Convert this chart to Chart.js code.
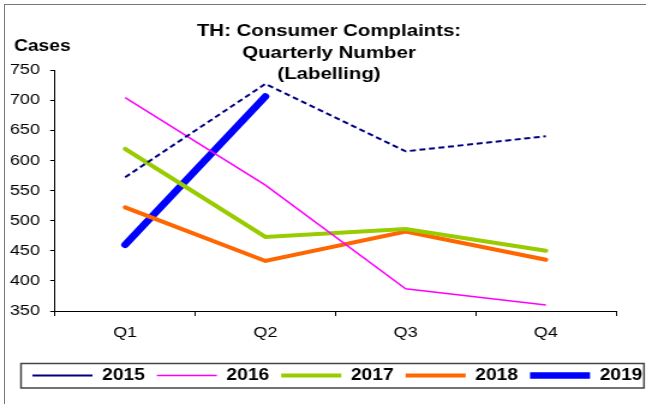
<!DOCTYPE html>
<html>
<head>
<meta charset="utf-8">
<script src="https://cdn.jsdelivr.net/npm/chart.js@4.4.0/dist/chart.umd.min.js"></script>
<style>
html,body{margin:0;padding:0;background:#fff;overflow:hidden;width:646px;height:404px;}
#frame{position:absolute;left:4px;top:4px;width:800px;height:600px;border-left:1px solid #777;border-top:1px solid #777;}
#c{position:absolute;left:0;top:0;}
</style>
</head>
<body>
<div id="frame"></div>
<canvas id="c" width="538" height="404" style="width:646px;height:404px;"></canvas>
<script>
// ---- data ----
const categories = ['Q1', 'Q2', 'Q3', 'Q4'];
const seriesNames = ['2015', '2016', '2017', '2018', '2019'];
const values2015 = [572, 727, 615, 640];
const values2016 = [704, 559, 387, 360];
const values2017 = [619, 473, 486, 450];
const values2018 = [522, 433, 482, 435];
const values2019 = [460, 706, null, null];
const yTickMin = 350;
const yTickMax = 750;
const yTickStep = 50;
const titleLines = ['TH: Consumer Complaints:', 'Quarterly Number', '(Labelling)'];
const yAxisLabel = 'Cases';

// ---- layout (canvas units; canvas is stretched 1.2x horizontally by CSS) ----
const SX = 646 / 538;
const PLOT_LEFT = 55 / SX;
const PLOT_RIGHT = 616 / SX;
const PLOT_TOP = 70;
const PLOT_BOTTOM = 311;
const CW = 538, CH = 404;

const textPlugin = {
  id: 'textPlugin',
  afterLayout(chart) {
    const lg = chart.legend;
    if (lg) {
      const w = lg.right - lg.left, h = lg.bottom - lg.top;
      const center = 281;
      lg.left = center - w / 2; lg.right = center + w / 2;
      lg.top = 357.5; lg.bottom = lg.top + h;
    }
  },
  afterDraw(chart) {
    const ctx = chart.ctx;
    ctx.save();
    ctx.fillStyle = '#000';
    ctx.font = 'bold 17px "Liberation Sans", Arial, sans-serif';
    ctx.textAlign = 'center';
    ctx.textBaseline = 'alphabetic';
    const cx = 329 / SX;
    const bases = [36, 57.5, 79];
    titleLines.forEach((t, i) => ctx.fillText(t, cx, bases[i]));
    ctx.font = 'bold 16px "Liberation Sans", Arial, sans-serif';
    ctx.textAlign = 'left';
    ctx.fillText(yAxisLabel, 14 / SX, 51);
    // legend frame
    ctx.strokeStyle = '#444';
    ctx.lineWidth = 1.5;
    ctx.strokeRect(21 / SX, 363.5, (644 - 21) / SX, 24.5);
    ctx.restore();
  }
};

const ds = (label, data, color, width, dash, cap) => ({
  label, data,
  yAxisID: 'y',
  borderColor: color,
  backgroundColor: color,
  borderWidth: width,
  borderDash: dash,
  borderCapStyle: cap,
  borderJoinStyle: 'miter',
  pointRadius: 0,
  pointHoverRadius: 0,
  tension: 0,
  fill: false,
  spanGaps: false
});

new Chart(document.getElementById('c'), {
  type: 'line',
  data: {
    labels: categories,
    datasets: [
      ds(seriesNames[0], values2015, '#000080', 2, [5, 3], 'butt'),
      ds(seriesNames[1], values2016, '#FF00FF', 1.5, [], 'butt'),
      ds(seriesNames[2], values2017, '#99CC00', 4, [], 'round'),
      ds(seriesNames[3], values2018, '#FF6600', 4, [], 'round'),
      ds(seriesNames[4], values2019, '#0000FF', 6.5, [], 'round')
    ]
  },
  options: {
    responsive: false,
    devicePixelRatio: 1,
    animation: false,
    events: [],
    layout: { padding: { left: 0, right: 0, top: PLOT_TOP, bottom: 0 } },
    plugins: {
      title: { display: false },
      tooltip: { enabled: false },
      legend: {
        display: true,
        position: 'bottom',
        labels: {
          usePointStyle: true,
          pointStyle: 'line',
          pointStyleWidth: 50,
          padding: 10,
          color: '#000',
          font: { family: '"Liberation Sans", Arial, sans-serif', size: 16, weight: 'bold' }
        }
      }
    },
    scales: {
      x: {
        type: 'category',
        offset: true,
        grid: { display: true, offset: true, drawOnChartArea: false, drawTicks: true, tickLength: 5, color: '#000', lineWidth: 1 },
        border: { display: true, color: '#000', width: 1 },
        ticks: {
          color: '#000', padding: 8, maxRotation: 0, autoSkip: false,
          font: { family: '"Liberation Sans", Arial, sans-serif', size: 15 }
        },
        afterFit(scale) {
          const lgH = scale.chart.legend ? scale.chart.legend.height : 0;
          scale.height = (CH - PLOT_BOTTOM) - lgH;
        }
      },
      y: {
        position: 'left',
        min: yTickMin,
        max: yTickMax,
        grid: { display: true, drawOnChartArea: false, drawTicks: true, tickLength: 4, color: '#000', lineWidth: 1 },
        border: { display: true, color: '#000', width: 1 },
        ticks: {
          stepSize: yTickStep, color: '#000', padding: 8.5,
          font: { family: '"Liberation Sans", Arial, sans-serif', size: 15 }
        },
        afterFit(scale) { scale.width = PLOT_LEFT; }
      },
      spacer: {
        position: 'right',
        display: true,
        grid: { display: false },
        border: { display: false },
        ticks: { display: false },
        afterFit(scale) { scale.width = CW - PLOT_RIGHT; }
      }
    }
  },
  plugins: [textPlugin]
});
</script>
</body>
</html>
